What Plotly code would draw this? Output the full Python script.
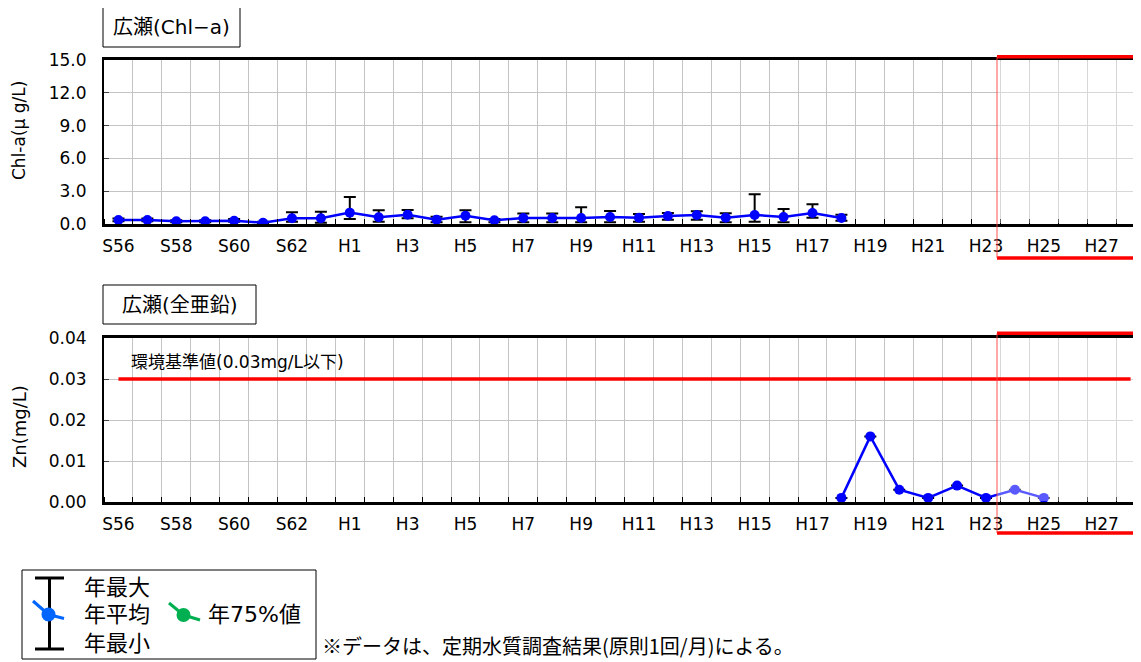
import plotly.graph_objects as go

# page body has an 8px margin, so the figure is drawn 8px in and sized to fit
OFF = 8
W, H = 1141 - OFF, 662 - OFF

# --- data -------------------------------------------------------------
years = (["S56", "S57", "S58", "S59", "S60", "S61", "S62", "S63"]
         + ["H%d" % i for i in range(1, 29)])

# Chl-a (ug/L): S56 .. H18
chl_years = years[:26]
chl_mean = [0.37, 0.37, 0.25, 0.25, 0.30, 0.12, 0.52, 0.52, 1.04, 0.61,
            0.84, 0.40, 0.76, 0.34, 0.55, 0.55, 0.55, 0.64, 0.58, 0.73,
            0.83, 0.58, 0.83, 0.64, 1.00, 0.55]
chl_max = [0.50, 0.50, 0.35, 0.35, 0.45, 0.20, 1.07, 1.13, 2.47, 1.25,
           1.28, 0.67, 1.25, 0.45, 0.95, 0.95, 1.53, 1.20, 0.92, 1.00,
           1.16, 0.98, 2.72, 1.38, 1.80, 0.85]
chl_min = [0.25, 0.25, 0.15, 0.15, 0.20, 0.05, 0.20, 0.12, 0.46, 0.20,
           0.52, 0.15, 0.15, 0.15, 0.15, 0.15, 0.15, 0.15, 0.20, 0.40,
           0.40, 0.15, 0.20, 0.15, 0.58, 0.30]

# total zinc (mg/L): H18 .. H25
zn_years = ["H18", "H19", "H20", "H21", "H22", "H23", "H24", "H25"]
zn_mean = [0.001, 0.016, 0.003, 0.001, 0.004, 0.001, 0.003, 0.001]
zn_max = [0.001, 0.016, 0.003, 0.001, 0.004, 0.001, 0.003, 0.001]
zn_min = [0.001, 0.016, 0.003, 0.001, 0.004, 0.001, 0.003, 0.001]

std_years = ["S56", "H28"]   # 環境基準値 line S56 .. H28
std_value = 0.03

tick_labels = years[0:35:2]


def px(x):
    return (x - OFF) / W


def py(y):
    return 1 - (y - OFF) / H


idx = {y: i for i, y in enumerate(years)}
FONT = "DejaVu Sans, Noto Sans CJK JP, sans-serif"
GRID = "#c4c4c4"
BLUE = "#0000ff"

fig = go.Figure()

fig.add_trace(go.Scatter(
    x=[idx[y] for y in chl_years], y=chl_mean, mode="lines+markers",
    line=dict(color=BLUE, width=2.5), marker=dict(color=BLUE, size=10),
    error_y=dict(type="data", symmetric=False,
                 array=[a - m for a, m in zip(chl_max, chl_mean)],
                 arrayminus=[m - b for m, b in zip(chl_mean, chl_min)],
                 color="black", thickness=2, width=6),
    xaxis="x", yaxis="y", showlegend=False))

fig.add_trace(go.Scatter(
    x=[idx[y] for y in zn_years], y=zn_mean, mode="lines+markers",
    line=dict(color=BLUE, width=2.5), marker=dict(color=BLUE, size=10),
    error_y=dict(type="data", symmetric=False,
                 array=[a - m for a, m in zip(zn_max, zn_mean)],
                 arrayminus=[m - b for m, b in zip(zn_mean, zn_min)],
                 color="black", thickness=2, width=6),
    xaxis="x2", yaxis="y2", showlegend=False))

xcommon = dict(
    range=[-0.5, 35.36], tickmode="array",
    tickvals=[idx[t] for t in tick_labels], ticktext=tick_labels,
    showgrid=False, ticks="", showline=True, linecolor="black", linewidth=2.5,
    mirror=True, zeroline=False, ticklabelstandoff=5,
    tickfont=dict(family=FONT, size=17, color="black"),
    minor=dict(tick0=-0.5, dtick=1, showgrid=True, gridcolor=GRID, gridwidth=1,
               ticks="inside", ticklen=5, tickcolor="black"),
    domain=[px(104), 1])

ycommon = dict(showgrid=True, gridcolor=GRID, gridwidth=1, zeroline=False,
               showline=True, linecolor="black", linewidth=2,
               ticks="inside", ticklen=5, tickcolor="#444",
               ticklabelstandoff=12,
               tickfont=dict(family=FONT, size=17, color="black"))

fig.update_layout(
    width=W, height=H, margin=dict(l=0, r=0, t=0, b=0, autoexpand=False),
    paper_bgcolor="white", plot_bgcolor="white",
    xaxis=dict(xcommon, anchor="y"),
    yaxis=dict(ycommon, range=[0, 15], dtick=3, tickformat=".1f",
               domain=[py(224), py(60)], anchor="x"),
    xaxis2=dict(xcommon, anchor="y2"),
    yaxis2=dict(ycommon, range=[0, 0.04], dtick=0.01, tickformat=".2f",
                domain=[py(502), py(338)], anchor="x2"),
)

shapes = []
ann = []

# title boxes
for (x0, y0, x1, y1, txt) in [(103, 7, 240, 47, "広瀬(Chl−a)"),
                              (103, 285, 256, 324, "広瀬(全亜鉛)")]:
    shapes.append(dict(type="rect", xref="paper", yref="paper",
                       x0=px(x0), x1=px(x1), y0=py(y1), y1=py(y0),
                       line=dict(color="black", width=1)))
    ann.append(dict(text=txt, xref="paper", yref="paper",
                    x=px((x0 + x1) / 2), y=py((y0 + y1) / 2),
                    xanchor="center", yanchor="middle", showarrow=False,
                    font=dict(family=FONT, size=20, color="black")))

# axis titles
ann.append(dict(text="Chl-a(μ g/L)", xref="paper", yref="paper",
                x=px(19), y=py(131), textangle=-90, showarrow=False,
                xanchor="center", yanchor="middle",
                font=dict(family=FONT, size=17, color="black")))
ann.append(dict(text="Zn(mg/L)", xref="paper", yref="paper",
                x=px(19), y=py(427), textangle=-90, showarrow=False,
                xanchor="center", yanchor="middle",
                font=dict(family=FONT, size=18, color="black")))

ann.append(dict(text="環境基準値(0.03mg/L以下)", xref="paper", yref="paper",
                x=px(129), y=py(362), xanchor="left", yanchor="middle",
                showarrow=False, font=dict(family=FONT, size=17, color="black")))

# faded region with red frame (H24 onward)
for (ytop, ybot) in [(60, 224), (338, 502)]:
    shapes.append(dict(type="rect", xref="paper", yref="paper", layer="above",
                       x0=px(997), x1=1.01, y0=py(ybot - 1), y1=py(ytop + 1),
                       fillcolor="rgba(255,255,255,0.35)", line=dict(width=0)))

# environmental standard line, drawn over the fade
shapes.append(dict(type="line", xref="x2", yref="y2", layer="above",
                   x0=idx[std_years[0]], x1=idx[std_years[1]],
                   y0=std_value, y1=std_value,
                   line=dict(color="#ff0000", width=3.5)))

for (top, bot) in [(56.7, 258), (333.3, 533)]:
    shapes.append(dict(type="line", xref="paper", yref="paper", layer="above",
                       x0=px(997), x1=1.01, y0=py(top), y1=py(top),
                       line=dict(color="#ff0000", width=3.5)))
    shapes.append(dict(type="line", xref="paper", yref="paper", layer="above",
                       x0=px(997), x1=1.01, y0=py(bot), y1=py(bot),
                       line=dict(color="#ff0000", width=3.5)))
    shapes.append(dict(type="line", xref="paper", yref="paper", layer="above",
                       x0=px(997), x1=px(997), y0=py(top), y1=py(bot),
                       line=dict(color="rgba(255,60,60,0.6)", width=1.5)))

# legend box
shapes.append(dict(type="rect", xref="paper", yref="paper",
                   x0=px(22), x1=px(316), y0=py(659), y1=py(570),
                   line=dict(color="black", width=1)))
shapes.append(dict(type="line", xref="paper", yref="paper",
                   x0=px(49.5), x1=px(49.5), y0=py(578), y1=py(649),
                   line=dict(color="black", width=3)))
for yy in (578, 649):
    shapes.append(dict(type="line", xref="paper", yref="paper",
                       x0=px(35), x1=px(64), y0=py(yy), y1=py(yy),
                       line=dict(color="black", width=3)))
for (pts, col) in [([(33, 601), (48.5, 614.5), (64, 618.5)], "#0066ff"),
                   ([(169, 603), (183.5, 615), (200, 620)], "#00b050")]:
    for a, b in zip(pts[:-1], pts[1:]):
        shapes.append(dict(type="line", xref="paper", yref="paper",
                           x0=px(a[0]), x1=px(b[0]), y0=py(a[1]), y1=py(b[1]),
                           line=dict(color=col, width=3)))
    cx, cy = pts[1]
    shapes.append(dict(type="circle", xref="paper", yref="paper",
                       x0=px(cx - 7), x1=px(cx + 7), y0=py(cy + 7), y1=py(cy - 7),
                       fillcolor=col, line=dict(color=col, width=0)))

for (txt, x, y) in [("年最大", 82, 587), ("年平均", 82, 614), ("年最小", 82, 643),
                    ("年75%値", 206, 614)]:
    ann.append(dict(text=txt, xref="paper", yref="paper", x=px(x), y=py(y),
                    xanchor="left", yanchor="middle", showarrow=False,
                    font=dict(family=FONT, size=22, color="black")))

ann.append(dict(text="※データは、定期水質調査結果(原則1回/月)による。",
                xref="paper", yref="paper", x=px(320), y=py(645),
                xanchor="left", yanchor="middle", showarrow=False,
                font=dict(family="Noto Sans CJK JP", size=20, color="black")))

fig.update_layout(shapes=shapes, annotations=ann)

fig.write_html("out.html")
